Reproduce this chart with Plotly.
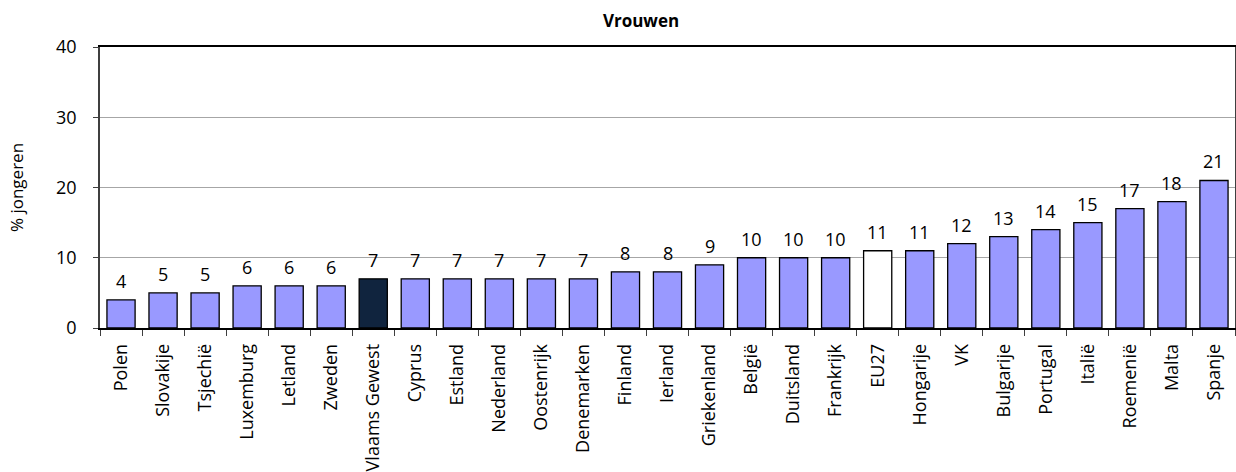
import plotly.graph_objects as go

categories = ["Polen", "Slovakije", "Tsjechië", "Luxemburg", "Letland", "Zweden",
              "Vlaams Gewest", "Cyprus", "Estland", "Nederland", "Oostenrijk",
              "Denemarken", "Finland", "Ierland", "Griekenland", "België", "Duitsland",
              "Frankrijk", "EU27", "Hongarije", "VK", "Bulgarije", "Portugal", "Italië",
              "Roemenië", "Malta", "Spanje"]
values = [4, 5, 5, 6, 6, 6, 7, 7, 7, 7, 7, 7, 8, 8, 9, 10, 10, 10, 11, 11, 12, 13,
          14, 15, 17, 18, 21]

base_color = "#9999FF"
special_colors = {"Vlaams Gewest": "#10243E", "EU27": "#FFFFFF"}
colors = [special_colors.get(c, base_color) for c in categories]

FONT = "Open Sans"
fs = 18

fig = go.Figure()
fig.add_trace(go.Bar(
    x=categories, y=values,
    marker=dict(color=colors, line=dict(color="#000000", width=1.3)),
    showlegend=False, hoverinfo="x+y",
))

for c, v in zip(categories, values):
    fig.add_annotation(x=c, y=v, text=str(v), showarrow=False,
                       yanchor="bottom", yshift=5,
                       font=dict(family=FONT, size=fs, color="#000000"))

fig.update_layout(
    width=1236, height=472,
    margin=dict(l=100, r=1, t=47, b=144, autoexpand=False),
    paper_bgcolor="white", plot_bgcolor="white",
    bargap=0.33,
    font=dict(family=FONT, size=fs, color="#000000"),
    title=dict(text="<b>Vrouwen</b>", x=641/1236, xref="container", xanchor="center",
               y=1 - 21/472, yref="container", yanchor="middle",
               font=dict(family=FONT, size=17, color="#000000")),
)

fig.update_yaxes(
    range=[0, 40], tickvals=[0, 10, 20, 30, 40],
    showgrid=True, gridcolor="#A6A6A6", gridwidth=1.3,
    showline=True, linecolor="#3F3F3F", linewidth=1.5, mirror=True,
    ticks="outside", ticklen=5, tickcolor="#3F3F3F", tickwidth=1,
    ticklabelstandoff=13,
    zeroline=False,
    title=dict(text="% jongeren", standoff=28, font=dict(family=FONT, size=17)),
    automargin=False,
)
fig.update_xaxes(
    type="category", tickangle=-90,
    showline=True, linecolor="#000000", linewidth=1.5, mirror=True,
    ticks="outside", ticklen=6, tickcolor="#3F3F3F", tickwidth=1,
    tickson="boundaries", ticklabelstandoff=7,
    showgrid=False, automargin=False,
)

fig.write_html("out.html", config={"displayModeBar": False},
               post_script="document.body.style.margin='0';")
